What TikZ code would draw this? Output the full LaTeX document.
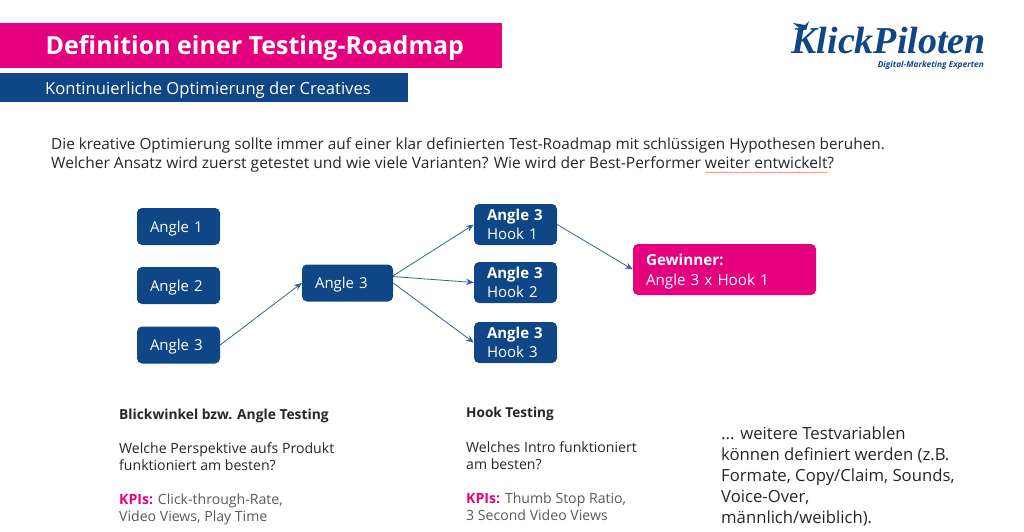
\documentclass[tikz,border=0pt]{standalone}
\usepackage{fontspec}
\setmainfont{Open Sans}
\newfontfamily\logofont{Liberation Serif}
\usetikzlibrary{arrows.meta,decorations.pathmorphing}
\definecolor{klickpink}{HTML}{E5007D}
\definecolor{klickblue}{HTML}{0F4686}
\definecolor{copyblack}{HTML}{262626}
\definecolor{kpigrey}{HTML}{595959}
\tikzset{
	flowbox/.style={rounded corners=5pt, fill=klickblue, text=white, anchor=center, align=left, inner xsep=0pt, inner ysep=0pt, font=\fontsize{15}{19}\selectfont},
	anglebox/.style={flowbox, minimum height=37, text height=12pt, text depth=1pt},
	winnerbox/.style={flowbox, fill=klickpink, font=\fontsize{15.2}{20}\selectfont},
	flowarrow/.style={draw=klickblue!85, line width=0.8pt, -{Stealth[length=8pt,width=6.5pt,inset=3pt]}},
	copytext/.style={anchor=base west, inner sep=0pt, text=copyblack, font=\fontsize{15.33}{19}\selectfont},
	smalltext/.style={anchor=north west, inner sep=0pt, align=left, text=copyblack, font=\fontsize{14.1}{17}\selectfont},
	kpitext/.style={smalltext, text=kpigrey},
}
\begin{document}
\begin{tikzpicture}[x=1pt, y=-1pt]
			%%%%% START %%%%%
			\useasboundingbox (0, 0) rectangle (1024, 532);
			
			\fill[klickpink] (0, 23) rectangle (502, 68);
			\fill[klickblue] (0, 73) rectangle (408, 102);
			\node[anchor=base west, inner sep=0pt, text=white, font=\fontsize{25}{30}\selectfont\bfseries] (title) at (45.5, 55) {Definition einer Testing-Roadmap};
			\node[anchor=base west, inner sep=0pt, text=white, font=\fontsize{16.6}{20}\selectfont] (subtitle) at (45, 94.5) {Kontinuierliche Optimierung der Creatives};
			
			% logo
			\node[anchor=base east, inner sep=0pt, text=klickblue, font=\fontsize{38}{38}\logofont\bfseries\itshape] (logo) at (986, 54) {KlickPiloten};
			\node[anchor=base east, inner sep=0pt, text=klickblue, font=\fontsize{8.3}{10}\selectfont\bfseries\itshape] (claim) at (984, 67.5) {Digital-Marketing Experten};
			\fill[klickblue] (793, 23) -- (805, 25) -- (809, 21) -- (806, 30) -- (799, 28) -- cycle;
			
			\node[copytext] (introa) at (51, 149.5) {Die kreative Optimierung sollte immer auf einer klar definierten Test-Roadmap mit schlüssigen Hypothesen beruhen.};
			\node[copytext, font=\fontsize{15.55}{19}\selectfont] (introb) at (51, 168.5) {Welcher Ansatz wird zuerst getestet und wie viele Varianten? Wie wird der Best-Performer weiter entwickelt?};
			\coordinate (squigglea) at (705, 172.5);
			\coordinate (squiggleb) at (828, 172.5);
			\draw[red!70!white, line width=0.4pt, decorate, decoration={snake, amplitude=0.7pt, segment length=3pt}] (squigglea) -- (squiggleb);
			
			% first column
			\node[anglebox, minimum width=83, text width=57] (angleA) at (178.5, 226.5) {Angle 1};
			\node[anglebox, minimum width=83, text width=57] (angleB) at (178.5, 285.5) {Angle 2};
			\node[anglebox, minimum width=83, text width=57] (angleC) at (178.5, 345) {Angle 3};
			
			\node[anglebox, minimum width=91, text width=65] (angleBest) at (347.5, 283) {Angle 3};
			
			\node[flowbox, minimum width=83, minimum height=41, text width=57] (hookA) at (515.5, 224.5) {\textbf{Angle 3}\\Hook 1};
			\node[flowbox, minimum width=83, minimum height=41, text width=57] (hookB) at (515.5, 282.5) {\textbf{Angle 3}\\Hook 2};
			\node[flowbox, minimum width=83, minimum height=41, text width=57] (hookC) at (515.5, 342.5) {\textbf{Angle 3}\\Hook 3};
			
			\node[winnerbox, minimum width=183, minimum height=51, text width=157] (winner) at (724.5, 269.5) {\rule{0pt}{16pt}\textbf{Gewinner:}\\Angle 3 x Hook 1};
			
			\draw[flowarrow] (angleC.east) -- (angleBest.west);
			\draw[flowarrow] (angleBest.9) -- (hookA.west);
			\draw[flowarrow] (angleBest.8) -- (hookB.west);
			\draw[flowarrow] (angleBest.east) -- (hookC.west);
			\draw[flowarrow] (hookA.east) -- (winner.west);
			
			% texts below
			\node[smalltext, font=\fontsize{13.8}{17}\selectfont\bfseries] (angleHead) at (119, 409) {Blickwinkel bzw. Angle Testing};
			\node[smalltext] (angleAsk) at (119, 443) {Welche Perspektive aufs Produkt\\funktioniert am besten?};
			\node[kpitext] (angleKpi) at (119, 494) {\textcolor{klickpink}{\textbf{KPIs:}} Click-through-Rate,\\Video Views, Play Time};
			
			\node[smalltext, font=\fontsize{13.6}{17}\selectfont\bfseries] (hookHead) at (466, 407) {Hook Testing};
			\node[smalltext] (hookAsk) at (466, 442) {Welches Intro funktioniert\\am besten?};
			\node[kpitext] (hookKpi) at (466, 493) {\textcolor{klickpink}{\textbf{KPIs:}} Thumb Stop Ratio,\\3 Second Video Views};
			
			\node[smalltext, font=\fontsize{16.7}{21}\selectfont] (moreVars) at (721, 426.5) {... weitere Testvariablen\\können definiert werden (z.B.\\Formate, Copy/Claim, Sounds,\\Voice-Over,\\männlich/weiblich).};
			%%%%% END %%%%%
		\end{tikzpicture}
\end{document}
